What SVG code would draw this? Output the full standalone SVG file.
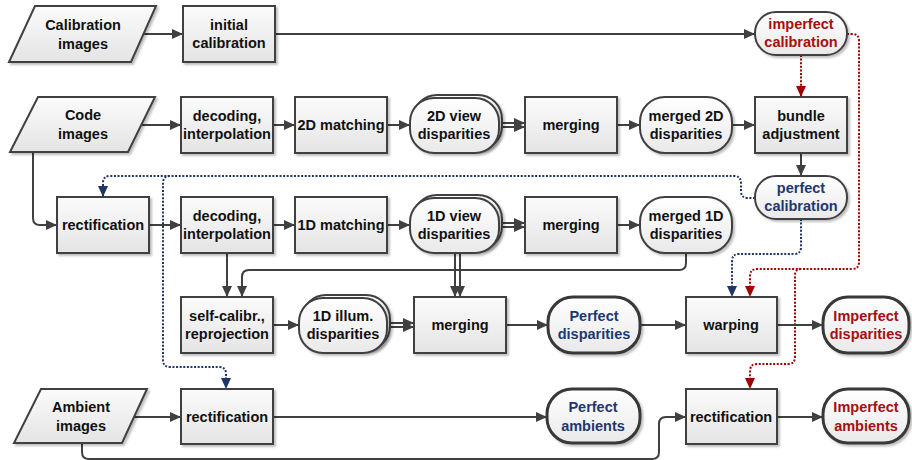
<svg xmlns="http://www.w3.org/2000/svg" width="912" height="460" viewBox="0 0 912 460">
<defs>
<linearGradient id="gBox" x1="0" y1="0" x2="0" y2="1"><stop offset="0" stop-color="#fbfbfb"/><stop offset="1" stop-color="#e4e4e4"/></linearGradient>
<linearGradient id="gPill" x1="0" y1="0" x2="0" y2="1"><stop offset="0" stop-color="#ffffff"/><stop offset="1" stop-color="#e9e9e9"/></linearGradient>
<filter id="sh" x="-10%" y="-10%" width="130%" height="130%"><feDropShadow dx="2" dy="2" stdDeviation="1" flood-color="#000" flood-opacity="0.25"/></filter>
<marker id="a" markerUnits="userSpaceOnUse" markerWidth="12" markerHeight="10" refX="11" refY="5" orient="auto"><path d="M0,0 L11,5 L0,10 z" fill="#404040"/></marker>
<marker id="ar" markerUnits="userSpaceOnUse" markerWidth="12" markerHeight="10" refX="11" refY="5" orient="auto"><path d="M0,0 L11,5 L0,10 z" fill="#a00000"/></marker>
<marker id="ab" markerUnits="userSpaceOnUse" markerWidth="12" markerHeight="10" refX="11" refY="5" orient="auto"><path d="M0,0 L11,5 L0,10 z" fill="#1f3468"/></marker>
</defs>
<style>
.box{fill:url(#gBox);stroke:#404040;stroke-width:2;filter:url(#sh)}
.pill{fill:url(#gPill);stroke:#404040;stroke-width:2;filter:url(#sh)}
.thick{stroke-width:3;stroke:#383838}
.t{font-family:"Liberation Sans",Arial,sans-serif;font-weight:bold;font-size:14.5px;text-anchor:middle;fill:#111}
.red{fill:#a50f0f}
.blue{fill:#1f3770}
.c{fill:none;stroke:#404040;stroke-width:2;marker-end:url(#a)}
.dr{fill:none;stroke:#a00000;stroke-width:2;stroke-dasharray:2 1.6;marker-end:url(#ar)}
.db{fill:none;stroke:#1f3468;stroke-width:2;stroke-dasharray:2 1.6;marker-end:url(#ab)}
</style>

<g id="connectors">
<path class="c" d="M143,34 L183,34"/>
<path class="c" d="M275,34 L755,34"/>
<path class="dr" d="M801,55 L801,97"/>
<path class="dr" d="M847,34 L852,34 Q859,34 859,41 L859,262 Q859,269 852,269 L757,269 Q750,269 750,276 L750,297"/>
<path class="dr" d="M801,269 Q795,269 795,276 L795,357 Q795,364 788,364 L757,364 Q750,364 750,371 L750,389"/>
<path class="db" d="M755,198 L748,198 Q741,198 741,191 L741,183 Q741,176 734,176 L110,176 Q103,176 103,183 L103,197"/>
<path class="db" d="M170,176 Q163,176 163,183 L163,360 Q163,367 170,367 L219,367 Q226,367 226,374 L226,389"/>
<path class="db" d="M801,219 L801,247 Q801,254 794,254 L739,254 Q732,254 732,261 L732,297"/>

<path class="c" d="M141,125 L181,125"/>
<path class="c" d="M273,125 L295,125"/>
<path class="c" d="M387,125 L410,125"/>
<path class="c" d="M499,123 L525,123"/>
<path class="c" d="M499,127 L525,127"/>
<path class="c" d="M617,125 L640,125"/>
<path class="c" d="M732,125 L755,125"/>
<path class="c" d="M801,153 L801,176"/>

<path class="c" d="M33,152 L33,218 Q33,225 40,225 L57,225"/>
<path class="c" d="M149,225 L181,225"/>
<path class="c" d="M273,225 L295,225"/>
<path class="c" d="M387,225 L410,225"/>
<path class="c" d="M499,223 L525,223"/>
<path class="c" d="M499,227 L525,227"/>
<path class="c" d="M617,225 L640,225"/>

<path class="c" d="M227,253 L227,297"/>
<path class="c" d="M686,253 L686,263 Q686,270 679,270 L249,270 Q242,270 242,277 L242,297"/>
<path class="c" d="M455,253 L455,297"/>
<path class="c" d="M460,253 L460,297"/>

<path class="c" d="M273,325 L299,325"/>
<path class="c" d="M387,323 L414,323"/>
<path class="c" d="M387,327 L414,327"/>
<path class="c" d="M506,325 L548,325"/>
<path class="c" d="M640,325 L686,325"/>
<path class="c" d="M777,325 L823,325"/>

<path class="c" d="M134,417 L181,417"/>
<path class="c" d="M273,417 L547,417"/>
<path class="c" d="M82,443 L82,452 Q82,459 89,459 L652,459 Q659,459 659,452 L659,424 Q659,417 666,417 L686,417"/>
<path class="c" d="M777,417 L823,417"/>
</g>

<g id="calibration-images"><path class="box" d="M35,6 L156,6 L131,62 L9,62 Z"/><text class="t" x="83" y="30">Calibration</text><text class="t" x="83" y="49">images</text></g>
<g id="initial-calibration"><rect class="box" x="183" y="6" width="92" height="56"/><text class="t" x="229" y="30">initial</text><text class="t" x="229" y="48">calibration</text></g>
<g id="imperfect-calibration"><rect class="pill" x="755" y="12" width="92" height="43" rx="21"/><text class="t red" x="801" y="29">imperfect</text><text class="t red" x="801" y="47">calibration</text></g>

<g id="code-images"><path class="box" d="M38,97 L155,97 L128,152 L10,152 Z"/><text class="t" x="83" y="120">Code</text><text class="t" x="83" y="139">images</text></g>
<g id="decoding-2d"><rect class="box" x="181" y="97" width="92" height="56"/><text class="t" x="227" y="121">decoding,</text><text class="t" x="227" y="139">interpolation</text></g>
<g id="matching-2d"><rect class="box" x="295" y="97" width="92" height="56"/><text class="t" x="341" y="130">2D matching</text></g>
<g id="view-disp-2d"><rect class="pill" x="413" y="95" width="89" height="55" rx="24"/><rect class="pill" x="410" y="98" width="89" height="55" rx="24"/><text class="t" x="454" y="121">2D view</text><text class="t" x="454" y="139">disparities</text></g>
<g id="merging-2d"><rect class="box" x="525" y="97" width="92" height="56"/><text class="t" x="571" y="130">merging</text></g>
<g id="merged-2d"><rect class="pill" x="640" y="97" width="92" height="56" rx="25"/><text class="t" x="686" y="121">merged 2D</text><text class="t" x="686" y="139">disparities</text></g>
<g id="bundle-adjustment"><rect class="box" x="755" y="97" width="92" height="56"/><text class="t" x="801" y="121">bundle</text><text class="t" x="801" y="139">adjustment</text></g>
<g id="perfect-calibration"><rect class="pill" x="755" y="176" width="92" height="43" rx="21"/><text class="t blue" x="801" y="193">perfect</text><text class="t blue" x="801" y="211">calibration</text></g>

<g id="rectification-code"><rect class="box" x="57" y="197" width="92" height="56"/><text class="t" x="103" y="230">rectification</text></g>
<g id="decoding-1d"><rect class="box" x="181" y="197" width="92" height="56"/><text class="t" x="227" y="221">decoding,</text><text class="t" x="227" y="239">interpolation</text></g>
<g id="matching-1d"><rect class="box" x="295" y="197" width="92" height="56"/><text class="t" x="341" y="230">1D matching</text></g>
<g id="view-disp-1d"><rect class="pill" x="413" y="195" width="89" height="55" rx="24"/><rect class="pill" x="410" y="198" width="89" height="55" rx="24"/><text class="t" x="454" y="221">1D view</text><text class="t" x="454" y="239">disparities</text></g>
<g id="merging-1d"><rect class="box" x="525" y="197" width="92" height="56"/><text class="t" x="571" y="230">merging</text></g>
<g id="merged-1d"><rect class="pill" x="640" y="197" width="92" height="56" rx="25"/><text class="t" x="686" y="221">merged 1D</text><text class="t" x="686" y="239">disparities</text></g>

<g id="self-calibration"><rect class="box" x="181" y="297" width="92" height="56"/><text class="t" x="227" y="321">self-calibr.,</text><text class="t" x="227" y="339">reprojection</text></g>
<g id="illum-disp-1d"><rect class="pill" x="302" y="295" width="88" height="55" rx="24"/><rect class="pill" x="299" y="298" width="88" height="55" rx="24"/><text class="t" x="343" y="321">1D illum.</text><text class="t" x="343" y="339">disparities</text></g>
<g id="merging-final"><rect class="box" x="414" y="297" width="92" height="56"/><text class="t" x="460" y="330">merging</text></g>
<g id="perfect-disparities"><rect class="pill thick" x="548" y="297" width="92" height="56" rx="25"/><text class="t blue" x="594" y="321">Perfect</text><text class="t blue" x="594" y="339">disparities</text></g>
<g id="warping"><rect class="box" x="686" y="297" width="91" height="56"/><text class="t" x="731" y="330">warping</text></g>
<g id="imperfect-disparities"><rect class="pill thick" x="823" y="297" width="86" height="56" rx="25"/><text class="t red" x="866" y="321">Imperfect</text><text class="t red" x="866" y="339">disparities</text></g>

<g id="ambient-images"><path class="box" d="M41,389 L147,389 L122,443 L14,443 Z"/><text class="t" x="81" y="412">Ambient</text><text class="t" x="81" y="431">images</text></g>
<g id="rectification-ambient"><rect class="box" x="181" y="389" width="92" height="55"/><text class="t" x="227" y="422">rectification</text></g>
<g id="perfect-ambients"><rect class="pill thick" x="547" y="389" width="93" height="54" rx="25"/><text class="t blue" x="593" y="412">Perfect</text><text class="t blue" x="593" y="431">ambients</text></g>
<g id="rectification-imperfect"><rect class="box" x="686" y="389" width="91" height="55"/><text class="t" x="731" y="422">rectification</text></g>
<g id="imperfect-ambients"><rect class="pill thick" x="823" y="389" width="86" height="54" rx="25"/><text class="t red" x="866" y="412">Imperfect</text><text class="t red" x="866" y="431">ambients</text></g>
</svg>
